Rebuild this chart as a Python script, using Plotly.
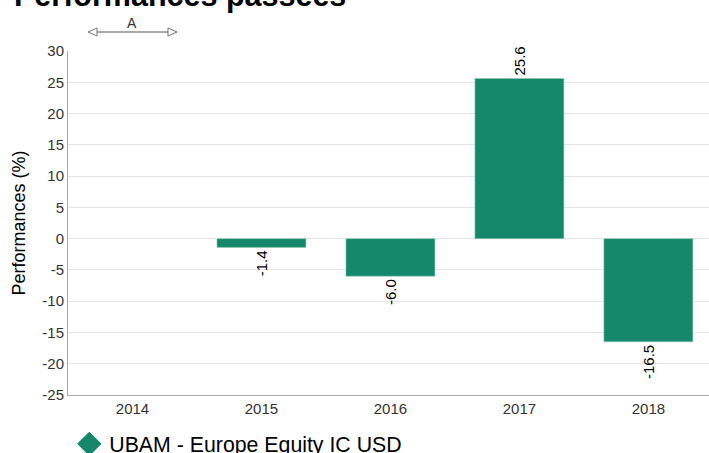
import plotly.graph_objects as go

years = ["2014", "2015", "2016", "2017", "2018"]
perf = [None, -1.4, -6.0, 25.6, -16.5]
labels = ["" if v is None else f"{v:.1f}" for v in perf]
series_name = "UBAM - Europe Equity IC USD"
y_ticks = [30, 25, 20, 15, 10, 5, 0, -5, -10, -15, -20, -25]
y_ticktext = [str(t) for t in y_ticks]

GREEN = "#15876A"
FONT = "Arial, Liberation Sans, sans-serif"

fig = go.Figure()
fig.add_trace(go.Bar(
    x=years, y=perf, text=labels, textposition="outside", textangle=-90,
    textfont=dict(size=15, color="#000000", family=FONT),
    marker=dict(color=GREEN, line=dict(color="#8fcdb8", width=0.6)),
    cliponaxis=False, showlegend=False, name=series_name,
))
fig.add_trace(go.Scatter(
    x=[None], y=[None], mode="markers", name=series_name,
    marker=dict(symbol="diamond", size=16, color=GREEN, line=dict(color=GREEN, width=2.5)),
))

# bracket annotation "A" over 2014
ya = 1 + (51 - 32) / 344
fig.add_shape(type="line", xref="x", yref="paper", x0=-0.345, x1=0.345, y0=ya, y1=ya,
              line=dict(color="#555555", width=1))
for xa, path in [(-0.345, "M0,0 L9,4 L9,-4 Z"), (0.345, "M0,0 L-9,4 L-9,-4 Z")]:
    fig.add_shape(type="path", xref="x", yref="paper", xsizemode="pixel", ysizemode="pixel",
                  xanchor=xa, yanchor=ya, path=path,
                  fillcolor="white", line=dict(color="#777777", width=1))
fig.add_annotation(x=0, xref="x", y=1 + (51 - 23) / 344, yref="paper", yanchor="middle",
                   text="A", showarrow=False,
                   font=dict(size=14, color="#333333", family=FONT))

fig.add_annotation(x=(12 - 68) / 641, xref="paper", xanchor="left",
                   y=1 + (51 + 4) / 344, yref="paper", yanchor="middle",
                   text="<b>Performances passées</b>", showarrow=False,
                   font=dict(size=30.5, color="#000000", family=FONT))

fig.update_layout(
    width=709, height=453,
    margin=dict(l=68, r=0, t=51, b=58),
    paper_bgcolor="white", plot_bgcolor="white",
    font=dict(family=FONT, color="#333333"),
    bargap=0.31,
    legend=dict(orientation="h", x=0.002, xanchor="left",
                yref="container", y=(453 - 444) / 453, yanchor="middle",
                font=dict(size=21.3, color="#000000", family=FONT)),
    xaxis=dict(type="category", range=[-0.5, 4.47], showgrid=False, automargin=False,
               showline=True, linecolor="#aaaaaa", linewidth=1,
               tickfont=dict(size=15, color="#333333")),
    yaxis=dict(range=[-25, 30], tickvals=y_ticks, ticktext=y_ticktext, automargin=False,
               showgrid=True, gridcolor="#e6e6e6",
               zeroline=False, showline=True, linecolor="#aaaaaa", linewidth=1,
               tickfont=dict(size=15, color="#333333"),
               title=dict(text="Performances (%)", font=dict(size=18, color="#000000"), standoff=12)),
)

fig.write_html("out.html", config={"displayModeBar": False},
               post_script="document.body.style.margin='0';")
